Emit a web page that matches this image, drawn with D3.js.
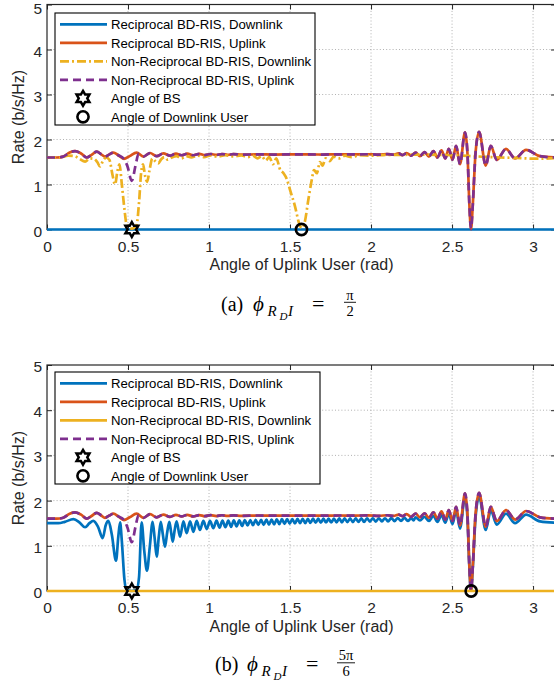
<!DOCTYPE html>
<html>
<head>
<meta charset="utf-8">
<script src="https://cdn.jsdelivr.net/npm/d3@7"></script>
<style>
  body { margin: 0; background: #fff; }
  svg { display: block; }
</style>
</head>
<body>
<svg id="fig" width="554" height="683"></svg>
<script>
// ---- Axis ticks ----
const xTicks = [0, 0.5, 1, 1.5, 2, 2.5, 3];
const yTicks = [0, 1, 2, 3, 4, 5];

// ---- Angles marked on the plots (rad) ----
const bsAngle = Math.PI / 6;
const dlUserAngleA = Math.PI / 2;
const dlUserAngleB = 5 * Math.PI / 6;

// ---- Legend labels ----
const legendLabels = [
  "Reciprocal BD-RIS, Downlink",
  "Reciprocal BD-RIS, Uplink",
  "Non-Reciprocal BD-RIS, Downlink",
  "Non-Reciprocal BD-RIS, Uplink",
  "Angle of BS",
  "Angle of Downlink User"
];

// ---- Rate curves [angle of uplink user (rad), rate (b/s/Hz)] ----
// Reciprocal BD-RIS uplink (same in both panels)
const recipUplink = [
  [0,1.60],[0.06,1.60],[0.10,1.62],[0.14,1.71],[0.173,1.74],[0.21,1.69],[0.245,1.60],
  [0.275,1.66],[0.307,1.73],[0.335,1.67],[0.358,1.62],[0.385,1.67],[0.41,1.71],[0.44,1.65],
  [0.475,1.57],[0.51,1.63],[0.553,1.71],[0.595,1.62],[0.636,1.70],[0.677,1.63],[0.718,1.69],
  [0.759,1.64],[0.796,1.685],[0.831,1.65],[0.866,1.685],[0.903,1.65],[0.94,1.68],[0.975,1.655],
  [1.01,1.678],[1.045,1.658],[1.08,1.676],[1.115,1.66],[1.15,1.674],[1.2,1.664],[1.3,1.67],
  [1.4,1.666],[1.5,1.668],[1.6,1.668],[1.7,1.666],[1.8,1.67],[1.9,1.668],[1.98,1.672],
  [2.05,1.664],[2.1,1.676],[2.14,1.662],[2.17,1.69],[2.195,1.655],[2.22,1.70],[2.247,1.64],
  [2.275,1.71],[2.302,1.63],[2.33,1.72],[2.357,1.62],[2.385,1.74],[2.41,1.60],[2.435,1.76],
  [2.458,1.58],[2.48,1.79],[2.503,1.55],[2.525,1.86],[2.549,1.45],[2.58,2.16],[2.595,1.70],
  [2.607,0.55],[2.617,0.01],[2.628,0.55],[2.645,1.70],[2.667,2.17],[2.708,1.42],[2.739,1.86],
  [2.776,1.545],[2.833,1.79],[2.889,1.58],[2.957,1.77],[3.043,1.63],[3.1416,1.60]
];

// Non-reciprocal BD-RIS uplink (same in both panels)
const nonRecipUplink = [
  [0,1.60],[0.06,1.60],[0.10,1.62],[0.14,1.71],[0.173,1.74],[0.21,1.69],[0.245,1.60],
  [0.275,1.66],[0.307,1.73],[0.335,1.67],[0.358,1.62],[0.385,1.67],[0.41,1.71],[0.44,1.65],
  [0.475,1.57],[0.497,1.40],[0.523,1.08],[0.548,1.45],[0.565,1.68],[0.595,1.62],[0.636,1.70],
  [0.677,1.63],[0.718,1.69],
  [0.759,1.64],[0.796,1.685],[0.831,1.65],[0.866,1.685],[0.903,1.65],[0.94,1.68],[0.975,1.655],
  [1.01,1.678],[1.045,1.658],[1.08,1.676],[1.115,1.66],[1.15,1.674],[1.2,1.664],[1.3,1.67],
  [1.4,1.666],[1.5,1.668],[1.6,1.668],[1.7,1.666],[1.8,1.67],[1.9,1.668],[1.98,1.672],
  [2.05,1.664],[2.1,1.676],[2.14,1.662],[2.17,1.69],[2.195,1.655],[2.22,1.70],[2.247,1.64],
  [2.275,1.71],[2.302,1.63],[2.33,1.72],[2.357,1.62],[2.385,1.74],[2.41,1.60],[2.435,1.76],
  [2.458,1.58],[2.48,1.79],[2.503,1.55],[2.525,1.86],[2.549,1.45],[2.58,2.16],[2.595,1.70],
  [2.607,0.55],[2.617,0.01],[2.628,0.55],[2.645,1.70],[2.667,2.17],[2.708,1.42],[2.739,1.86],
  [2.776,1.545],[2.833,1.79],[2.889,1.58],[2.957,1.77],[3.043,1.63],[3.1416,1.60]
];

// Panel (a): downlink user at pi/2
const recipDownlinkA = [[0,0],[3.1416,0]];
const nonRecipDownlinkA = [
  [0,1.60],[0.08,1.60],[0.13,1.64],[0.17,1.63],[0.20,1.57],[0.235,1.51],[0.265,1.58],
  [0.29,1.57],[0.31,1.50],[0.327,1.40],[0.345,1.52],[0.365,1.60],[0.385,1.55],[0.405,1.20],
  [0.42,1.00],[0.435,1.30],[0.447,1.45],[0.462,1.00],[0.478,0.45],[0.492,0.10],[0.523,0.02],
  [0.553,0.10],[0.568,0.60],[0.582,1.30],[0.593,1.45],[0.605,1.20],[0.618,1.06],[0.632,1.30],
  [0.65,1.58],[0.668,1.52],[0.687,1.47],[0.705,1.56],[0.725,1.61],[0.745,1.55],[0.77,1.60],
  [0.80,1.63],[0.83,1.58],[0.86,1.63],[0.89,1.60],[0.93,1.64],[0.97,1.61],[1.01,1.645],
  [1.05,1.62],[1.10,1.65],[1.15,1.625],[1.20,1.645],[1.24,1.61],[1.27,1.64],[1.30,1.58],
  [1.325,1.63],[1.35,1.53],[1.372,1.61],[1.395,1.45],[1.415,1.58],[1.44,1.32],[1.46,1.25],
  [1.48,1.12],[1.50,0.88],[1.531,0.51],[1.555,0.15],[1.572,0.03],[1.59,0.15],[1.613,0.66],
  [1.634,1.10],[1.648,1.32],[1.665,1.25],[1.685,1.50],[1.70,1.42],[1.72,1.58],[1.745,1.52],
  [1.77,1.62],[1.80,1.58],[1.84,1.64],[1.88,1.61],[1.93,1.65],[2.0,1.64],[2.1,1.66],
  [2.2,1.66],[2.3,1.665],[2.4,1.66],[2.5,1.65],[2.6,1.635],[2.7,1.615],[2.8,1.60],
  [2.9,1.59],[3.0,1.575],[3.07,1.575],[3.1416,1.59]
];

// Panel (b): downlink user at 5pi/6
const recipDownlinkB = [
  [0,1.50],[0.07,1.50],[0.11,1.53],[0.163,1.59],[0.20,1.52],[0.235,1.41],[0.262,1.50],
  [0.286,1.55],[0.315,1.42],[0.344,1.17],[0.362,1.45],[0.379,1.55],[0.40,1.25],[0.426,0.67],
  [0.44,1.20],[0.451,1.52],[0.462,1.10],[0.478,0.25],[0.492,0.02],[0.523,0.00],[0.552,0.02],
  [0.568,0.30],[0.584,1.52],[0.60,0.90],[0.617,0.45],[0.635,1.00],[0.652,1.53],[0.665,1.15],
  [0.677,0.76],[0.69,1.20],[0.702,1.53],[0.715,1.25],[0.728,0.98],[0.742,1.30],[0.755,1.53],
  [0.766,1.30],[0.776,1.09],[0.788,1.35],[0.80,1.54],[0.821,1.20],[0.842,1.54],[0.862,1.28],
  [0.883,1.54],[0.903,1.31],[0.924,1.55],[0.944,1.35],[0.965,1.55],[0.986,1.37],[1.006,1.55],
  [1.027,1.39],[1.046,1.555],[1.065,1.40],[1.083,1.56],[1.101,1.41],[1.119,1.56],[1.136,1.42],
  [1.153,1.565],[1.170,1.43],[1.187,1.565],[1.204,1.44],[1.221,1.57],[1.238,1.45],[1.255,1.57],
  [1.271,1.455],[1.288,1.575],[1.304,1.46],[1.321,1.575],[1.337,1.465],[1.354,1.58],[1.370,1.47],
  [1.386,1.58],[1.402,1.475],[1.418,1.585],[1.434,1.48],[1.450,1.59],[1.466,1.485],[1.482,1.59],
  [1.498,1.49],[1.514,1.59],[1.530,1.495],[1.546,1.595],[1.562,1.50],[1.578,1.595],[1.594,1.50],
  [1.610,1.595],[1.626,1.505],[1.642,1.60],[1.658,1.51],[1.674,1.60],[1.690,1.51],[1.706,1.60],
  [1.722,1.515],[1.738,1.60],[1.754,1.515],[1.771,1.60],[1.787,1.52],[1.804,1.605],[1.820,1.52],
  [1.837,1.605],[1.854,1.525],[1.871,1.605],[1.888,1.525],[1.905,1.605],[1.922,1.53],[1.940,1.61],
  [1.957,1.53],[1.975,1.61],[1.993,1.535],[2.011,1.61],[2.029,1.535],[2.048,1.61],[2.067,1.54],
  [2.086,1.61],[2.105,1.54],[2.125,1.615],[2.145,1.545],[2.165,1.615],[2.185,1.55],[2.206,1.62],
  [2.227,1.55],[2.248,1.61],[2.262,1.56],[2.275,1.63],[2.302,1.56],[2.33,1.64],[2.357,1.55],
  [2.385,1.66],[2.41,1.53],[2.435,1.68],[2.458,1.51],[2.48,1.71],[2.503,1.48],[2.525,1.78],
  [2.549,1.38],[2.58,2.08],[2.595,1.62],[2.607,0.52],[2.617,0.01],[2.628,0.52],[2.645,1.62],
  [2.667,2.09],[2.708,1.35],[2.739,1.78],[2.776,1.47],[2.833,1.71],[2.889,1.50],[2.957,1.69],
  [3.043,1.54],[3.1416,1.51]
];
const nonRecipDownlinkB = [[0,0],[3.1416,0]];

// ---- Styling ----
const C = { blue: "#0072BD", orange: "#D95319", yellow: "#EDB120", purple: "#7E2F8E" };
const LW = 2.7;
const DASH = "8,5";
const DASHDOT = "9,3,2,3";
const sans = "'Liberation Sans', Arial, Helvetica, sans-serif";
const serif = "'Liberation Serif', 'Times New Roman', serif";

const svg = d3.select("#fig");
svg.append("rect").attr("width", 554).attr("height", 683).attr("fill", "#fff");

const x = d3.scaleLinear().domain([0, Math.PI]).range([47, 556]);

function hexagramPath(r) {
  const pts = [];
  for (let i = 0; i < 12; i++) {
    const a = -Math.PI / 2 + i * Math.PI / 6;
    const rr = i % 2 ? r / Math.sqrt(3) : r;
    pts.push([rr * Math.cos(a), rr * Math.sin(a)]);
  }
  return "M" + pts.map(p => p.join(",")).join("L") + "Z";
}

function drawStar(g, cx, cy) {
  g.append("path").attr("d", hexagramPath(7.4))
    .attr("transform", `translate(${cx},${cy})`)
    .attr("fill", "none").attr("stroke", "#000")
    .attr("stroke-width", 2.5).attr("stroke-linejoin", "miter");
}
function drawCircle(g, cx, cy) {
  g.append("circle").attr("cx", cx).attr("cy", cy).attr("r", 5.6)
    .attr("fill", "none").attr("stroke", "#000").attr("stroke-width", 2.6);
}

function panel(cfg) {
  const y = d3.scaleLinear().domain([0, 5]).range([cfg.bottom, cfg.top]);
  const g = svg.append("g");
  const [x0, x1] = x.range();

  // grid
  const grid = g.append("g").attr("stroke", "#a8a8a8").attr("stroke-width", 0.9)
    .attr("stroke-dasharray", "1,2.2");
  grid.selectAll(".gx").data(xTicks.slice(1)).join("line")
    .attr("x1", d => x(d)).attr("x2", d => x(d))
    .attr("y1", cfg.top).attr("y2", cfg.bottom);
  grid.selectAll(".gy").data(yTicks.slice(1, -1)).join("line")
    .attr("x1", x0).attr("x2", x1)
    .attr("y1", d => y(d)).attr("y2", d => y(d));

  // axes (ticks inward)
  const ax = g.append("g").attr("font-family", sans);
  const bottomAxis = ax.append("g").attr("transform", `translate(0,${cfg.bottom})`)
    .call(d3.axisBottom(x).tickValues(xTicks).tickSize(-5).tickSizeOuter(0).tickPadding(11)
      .tickFormat(d3.format("")));
  const topAxis = ax.append("g").attr("transform", `translate(0,${cfg.top})`)
    .call(d3.axisTop(x).tickValues(xTicks).tickSize(-5).tickSizeOuter(0).tickFormat(""));
  const leftAxis = ax.append("g").attr("transform", `translate(${x0},0)`)
    .call(d3.axisLeft(y).tickValues(yTicks).tickSize(-5).tickSizeOuter(0).tickPadding(5)
      .tickFormat(d3.format("")));
  const rightAxis = ax.append("g").attr("transform", `translate(${x1},0)`)
    .call(d3.axisRight(y).tickValues(yTicks).tickSize(-5).tickSizeOuter(0).tickFormat(""));
  [bottomAxis, topAxis, leftAxis, rightAxis].forEach(a => {
    a.select(".domain").remove();
    a.selectAll(".tick line").attr("stroke", "#262626").attr("stroke-width", 1);
    a.selectAll(".tick text").attr("fill", "#262626").attr("font-size", 15.5);
  });
  // keep the top label inside the page when the frame sits at the very top
  leftAxis.selectAll(".tick text")
    .attr("dy", d => (d === 5 && cfg.top < 10) ? "0.56em" : "0.42em");
  g.append("rect").attr("x", x0).attr("y", cfg.top)
    .attr("width", x1 - x0).attr("height", cfg.bottom - cfg.top)
    .attr("fill", "none").attr("stroke", "#262626").attr("stroke-width", 1.2);

  // series
  const line = d3.line().x(d => x(d[0])).y(d => y(d[1])).curve(d3.curveMonotoneX);
  cfg.series.forEach(s => {
    g.append("path").datum(s.data).attr("d", line)
      .attr("fill", "none").attr("stroke", s.color).attr("stroke-width", LW)
      .attr("stroke-linejoin", "round")
      .attr("stroke-dasharray", s.dash || null);
  });

  // angle markers
  drawStar(g, x(bsAngle), y(0));
  drawCircle(g, x(cfg.dlAngle), y(0));

  // axis titles
  g.append("text").attr("x", (x0 + x1) / 2).attr("y", cfg.bottom + 40.5)
    .attr("text-anchor", "middle").attr("font-family", sans).attr("font-size", 16)
    .attr("fill", "#262626").text("Angle of Uplink User (rad)");
  g.append("text").attr("transform", `translate(24,${(cfg.top + cfg.bottom) / 2}) rotate(-90)`)
    .attr("text-anchor", "middle").attr("font-family", sans).attr("font-size", 16)
    .attr("fill", "#262626").text("Rate (b/s/Hz)");

  // legend
  const L = cfg.legend;
  const lg = g.append("g").attr("transform", `translate(${L.x},${L.y})`);
  lg.append("rect").attr("width", L.w).attr("height", 112)
    .attr("fill", "#fff").attr("stroke", "#000").attr("stroke-width", 1.1);
  legendLabels.forEach((label, i) => {
    const ry = 11.3 + i * 18.5;
    const s = cfg.series[i];
    if (i < 4) {
      lg.append("line").attr("x1", 5).attr("x2", 52).attr("y1", ry).attr("y2", ry)
        .attr("stroke", s.color).attr("stroke-width", LW)
        .attr("stroke-dasharray", s.dash || null);
    } else if (i === 4) {
      drawStar(lg, 28, ry);
    } else {
      drawCircle(lg, 28, ry);
    }
    lg.append("text").attr("x", 56).attr("y", ry).attr("dy", "0.36em")
      .attr("font-family", sans).attr("font-size", 13.2).attr("fill", "#000").text(label);
  });

  // caption
  const cap = svg.append("g").attr("transform", `translate(${cfg.caption.x},${cfg.caption.y})`)
    .attr("font-family", serif).attr("fill", "#000");
  cap.append("text").attr("x", 0).attr("font-size", 20).text(cfg.caption.tag);
  cap.append("text").attr("x", 32).attr("font-size", 21).attr("font-style", "italic").text("ϕ");
  cap.append("text").attr("x", 46.5).attr("y", 5).attr("font-size", 15).attr("font-style", "italic").text("R");
  cap.append("text").attr("x", 58.5).attr("y", 9).attr("font-size", 11).attr("font-style", "italic").text("D");
  cap.append("text").attr("x", 67).attr("y", 5).attr("font-size", 15).attr("font-style", "italic").text("I");
  cap.append("text").attr("x", 91).attr("font-size", 22).text("=");
  const fx = cfg.caption.fracX;
  cap.append("text").attr("x", fx).attr("y", -11).attr("text-anchor", "middle")
    .attr("font-size", 14.5).text(cfg.caption.num);
  cap.append("line").attr("x1", fx - cfg.caption.barHalf).attr("x2", fx + cfg.caption.barHalf)
    .attr("y1", -8.2).attr("y2", -8.2).attr("stroke", "#000").attr("stroke-width", 0.9);
  cap.append("text").attr("x", fx).attr("y", 5).attr("text-anchor", "middle")
    .attr("font-size", 14.5).text(cfg.caption.den);
}

panel({
  top: 4.5, bottom: 229.5, dlAngle: dlUserAngleA,
  series: [
    { data: recipDownlinkA, color: C.blue },
    { data: recipUplink, color: C.orange },
    { data: nonRecipDownlinkA, color: C.yellow, dash: DASHDOT },
    { data: nonRecipUplink, color: C.purple, dash: DASH }
  ],
  legend: { x: 55, y: 13, w: 260 },
  caption: { x: 221, y: 310.5, tag: "(a)", num: "π", den: "2", fracX: 129, barHalf: 6 }
});

panel({
  top: 365, bottom: 591, dlAngle: dlUserAngleB,
  series: [
    { data: recipDownlinkB, color: C.blue },
    { data: recipUplink, color: C.orange },
    { data: nonRecipDownlinkB, color: C.yellow },
    { data: nonRecipUplink, color: C.purple, dash: DASH }
  ],
  legend: { x: 55, y: 372, w: 265 },
  caption: { x: 215, y: 671, tag: "(b)", num: "5π", den: "6", fracX: 131, barHalf: 9 }
});
</script>
</body>
</html>
